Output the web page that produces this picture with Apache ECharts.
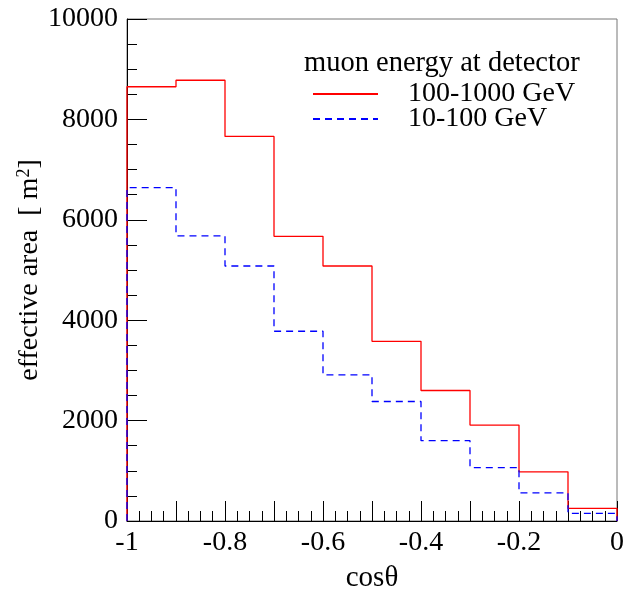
<!DOCTYPE html>
<html>
<head>
<meta charset="utf-8">
<script src="https://cdn.jsdelivr.net/npm/echarts@6/dist/echarts.min.js"></script>
<style>
html, body { margin: 0; padding: 0; background: #fff; }
#chart { width: 634px; height: 591px; }
</style>
</head>
<body>
<div id="chart"></div>
<script>
// bin edges in cos(theta)
const binEdges = [-1, -0.9, -0.8, -0.7, -0.6, -0.5, -0.4, -0.3, -0.2, -0.1, 0];
// effective area [m^2] per bin
const highEnergy = [8650, 8780, 7660, 5670, 5080, 3580, 2600, 1910, 980, 250];
const lowEnergy = [6640, 5680, 5080, 3780, 2910, 2380, 1600, 1065, 560, 150];
const seriesNames = ['100-1000 GeV', '10-100 GeV'];
const legendTitle = 'muon energy at detector';

const FONT = 'Liberation Serif';

// step outline of a histogram, starting and ending at zero
function histPoints(values) {
    let pts = [[binEdges[0], 0]];
    values.forEach(function (v, i) {
        pts.push([binEdges[i], v]);
        pts.push([binEdges[i + 1], v]);
    });
    pts.push([binEdges[binEdges.length - 1], 0]);
    return pts;
}

let myChart = echarts.init(document.getElementById('chart'));
myChart.setOption({
    animation: false,
    backgroundColor: '#fff',
    title: {
        text: legendTitle,
        left: 299,
        top: 44,
        textStyle: { fontFamily: FONT, fontSize: 28.5, fontWeight: 'normal', color: '#000' }
    },
    legend: {
        orient: 'vertical',
        left: 307,
        top: 75,
        itemWidth: 65,
        itemHeight: 14,
        itemGap: -3,
        data: seriesNames,
        itemStyle: { opacity: 0 },
        textStyle: {
            fontFamily: FONT, fontSize: 28, color: '#000',
            padding: [0, 0, 0, 25]
        }
    },
    grid: {
        left: 127, right: 17, top: 19, bottom: 70,
        outerBoundsMode: 'none',
        show: true, borderColor: '#777', borderWidth: 1
    },
    xAxis: {
        type: 'value',
        min: -1, max: 0, interval: 0.1,
        name: 'cos\u03b8',
        nameLocation: 'middle',
        nameGap: 43,
        nameMoveOverlap: false,
        nameTextStyle: { fontFamily: FONT, fontSize: 29, color: '#000' },
        axisLine: { onZero: false, lineStyle: { color: '#000', width: 1 } },
        axisTick: { inside: true, length: 20, lineStyle: { color: '#000' } },
        minorTick: { show: true, splitNumber: 4, length: 10, lineStyle: { color: '#000' } },
        splitLine: { show: false },
        axisLabel: {
            margin: 8,
            fontFamily: FONT, fontSize: 28, color: '#000',
            formatter: function (v) {
                let k = Math.round(v * 10);
                if (k % 2 !== 0) return '';
                return String(k / 10);
            }
        }
    },
    yAxis: {
        type: 'value',
        min: 0, max: 10000, interval: 2000,
        name: 'effective area  [ m{sup|2}]',
        nameLocation: 'middle',
        nameGap: 82,
        nameMoveOverlap: false,
        nameRotate: 90,
        nameTextStyle: {
            fontFamily: FONT, fontSize: 28, color: '#000',
            rich: { sup: { fontFamily: FONT, fontSize: 18, color: '#000', verticalAlign: 'top', padding: [0, 0, 12, 0] } }
        },
        axisLine: { show: true, onZero: false, lineStyle: { color: '#000', width: 1 } },
        axisTick: { inside: true, length: 20, lineStyle: { color: '#000' } },
        minorTick: { show: true, splitNumber: 4, length: 10, lineStyle: { color: '#000' } },
        splitLine: { show: false },
        axisLabel: {
            margin: 9, fontFamily: FONT, fontSize: 28, color: '#000',
            formatter: function (v) { return String(v); }
        }
    },
    series: [
        {
            name: seriesNames[0],
            type: 'line',
            symbol: 'none',
            data: histPoints(highEnergy),
            lineStyle: { color: '#ff0000', width: 1.3 },
            itemStyle: { color: '#ff0000' }
        },
        {
            name: seriesNames[1],
            type: 'line',
            symbol: 'none',
            data: histPoints(lowEnergy),
            lineStyle: { color: '#0000ff', width: 1.3, type: [7, 5] },
            itemStyle: { color: '#0000ff' }
        }
    ]
});
window.addEventListener('resize', function () {
    myChart.resize();
});
</script>
</body>
</html>
